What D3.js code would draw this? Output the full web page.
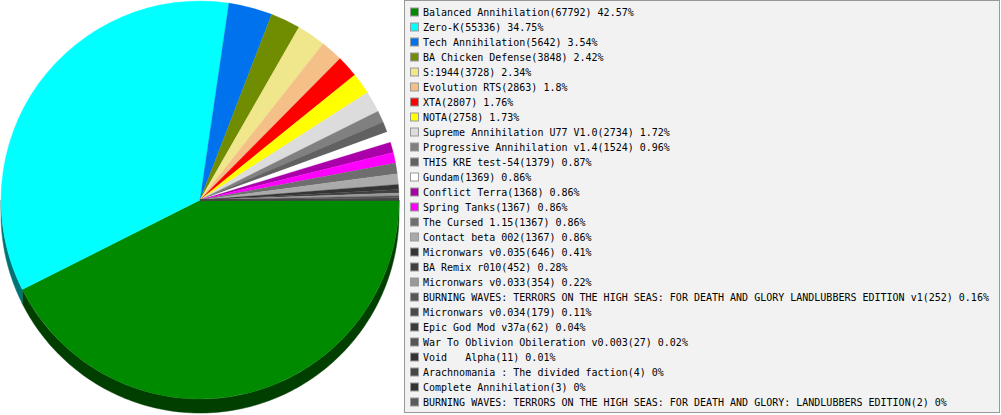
<!DOCTYPE html>
<html>
<head>
<meta charset="utf-8">
<script src="https://cdn.jsdelivr.net/npm/d3@7"></script>
<style>
    body { margin: 0; background: #fff; }
    text { white-space: pre; }
</style>
</head>
<body>
<div id="chart"></div>
<script>
var names = [
    'Balanced Annihilation', 'Zero-K', 'Tech Annihilation', 'BA Chicken Defense',
    'S:1944', 'Evolution RTS', 'XTA', 'NOTA', 'Supreme Annihilation U77 V1.0',
    'Progressive Annihilation v1.4', 'THIS KRE test-54', 'Gundam', 'Conflict Terra',
    'Spring Tanks', 'The Cursed 1.15', 'Contact beta 002', 'Micronwars v0.035',
    'BA Remix r010', 'Micronwars v0.033',
    'BURNING WAVES: TERRORS ON THE HIGH SEAS: FOR DEATH AND GLORY LANDLUBBERS EDITION v1',
    'Micronwars v0.034', 'Epic God Mod v37a', 'War To Oblivion Obileration v0.003',
    'Void   Alpha', 'Arachnomania : The divided faction', 'Complete Annihilation',
    'BURNING WAVES: TERRORS ON THE HIGH SEAS: FOR DEATH AND GLORY: LANDLUBBERS EDITION'
];
var counts = [
    67792, 55336, 5642, 3848, 3728, 2863, 2807, 2758, 2734, 1524, 1379, 1369, 1368,
    1367, 1367, 1367, 646, 452, 354, 252, 179, 62, 27, 11, 4, 3, 2
];
var colors = [
    '#008a00', '#00ffff', '#0072ee', '#708c00', '#f0e68c', '#f4c088', '#ff0000',
    '#ffff00', '#dcdcdc', '#808080', '#616161', '#ffffff', '#aa00aa', '#ff00ff',
    '#6e6e6e', '#aaaaaa', '#353535', '#404040', '#999999', '#575757', '#4a4a4a',
    '#3a3a3a', '#555555', '#333333', '#464646', '#333333', '#5a5a5a'
];

(function () {
    'use strict';

    var width = 1001;
    var height = 415;
    var cx = 200;
    var cy = 200;
    var radius = 199;
    var depth = 14;

    var data = names.map(function (n, i) {
        return { name: n, count: counts[i], color: colors[i] };
    });
    var total = d3.sum(counts);

    var svg = d3.select('#chart').append('svg')
        .attr('width', width)
        .attr('height', height);

    var pie = d3.pie()
        .sort(null)
        .value(function (d) { return d.count; })
        .startAngle(Math.PI / 2)
        .endAngle(Math.PI / 2 + 2 * Math.PI);

    var arcs = pie(data);
    var arc = d3.arc().innerRadius(0).outerRadius(radius);

    var g = svg.append('g').attr('transform', 'translate(' + cx + ',' + cy + ')');

    // side of the disc, only the front half shows
    function sidePath (a0, a1) {
        var lo = Math.max(a0, Math.PI / 2);
        var hi = Math.min(a1, 3 * Math.PI / 2);
        if (hi <= lo) { return null; }
        var p = d3.path();
        var steps = Math.max(2, Math.ceil((hi - lo) / 0.02));
        var i, a;
        for (i = 0; i <= steps; i++) {
            a = lo + (hi - lo) * i / steps;
            if (i === 0) { p.moveTo(radius * Math.sin(a), -radius * Math.cos(a)); }
            else { p.lineTo(radius * Math.sin(a), -radius * Math.cos(a)); }
        }
        for (i = steps; i >= 0; i--) {
            a = lo + (hi - lo) * i / steps;
            p.lineTo(radius * Math.sin(a), -radius * Math.cos(a) + depth);
        }
        p.closePath();
        return p.toString();
    }

    g.append('g').selectAll('path')
        .data(arcs.filter(function (d) { return sidePath(d.startAngle, d.endAngle); }))
        .enter().append('path')
        .attr('d', function (d) { return sidePath(d.startAngle, d.endAngle); })
        .attr('fill', function (d) { return d3.color(d.data.color).darker(2.2); })
        .attr('stroke', function (d) { return d3.color(d.data.color).darker(2.2); })
        .attr('stroke-width', 0.5);

    g.append('g').selectAll('path')
        .data(arcs)
        .enter().append('path')
        .attr('d', arc)
        .attr('fill', function (d) { return d.data.color; })
        .attr('stroke', function (d) { return d.data.color; })
        .attr('stroke-width', 0.3);

    // legend
    var legend = svg.append('g');
    legend.append('rect')
        .attr('x', 404.5)
        .attr('y', 0.5)
        .attr('width', 595)
        .attr('height', 412)
        .attr('fill', '#f2f2f2')
        .attr('stroke', '#999');

    var y = d3.scaleLinear().domain([0, 1]).range([12, 27]);

    var rows = legend.selectAll('g.row')
        .data(data)
        .enter().append('g')
        .attr('class', 'row')
        .attr('transform', function (d, i) { return 'translate(0,' + y(i) + ')'; });

    rows.append('rect')
        .attr('x', 410.5)
        .attr('y', -4)
        .attr('width', 8)
        .attr('height', 8)
        .attr('fill', function (d) { return d.color; })
        .attr('stroke', '#999');

    rows.append('text')
        .attr('x', 423)
        .attr('y', 4)
        .attr('font-family', 'DejaVu Sans Mono, monospace')
        .attr('font-size', '10px')
        .attr('fill', '#000')
        .text(function (d) {
            return d.name + '(' + d.count + ') ' + (+(d.count / total * 100).toFixed(2)) + '%';
        });
})();
</script>
</body>
</html>
